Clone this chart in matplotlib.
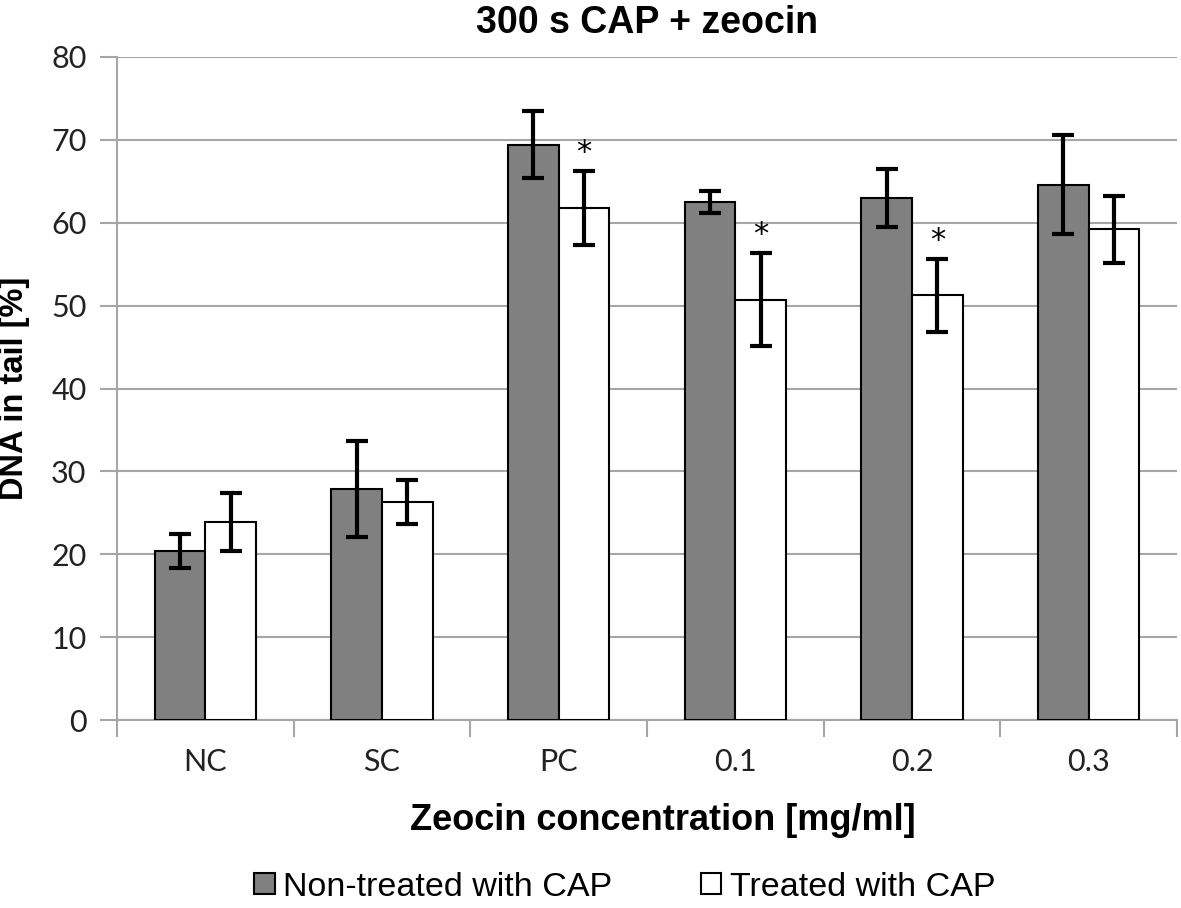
import matplotlib
matplotlib.use("Agg")
import matplotlib.pyplot as plt
import numpy as np
from matplotlib.patches import Patch

categories = ["NC", "SC", "PC", "0.1", "0.2", "0.3"]
non_treated = [20.4, 27.9, 69.4, 62.5, 63.0, 64.6]
non_treated_err = [2.0, 5.8, 4.05, 1.3, 3.5, 5.95]
treated = [23.95, 26.3, 61.75, 50.7, 51.25, 59.2]
treated_err = [3.5, 2.7, 4.45, 5.6, 4.4, 4.05]
significant = [False, False, True, True, True, False]

series_labels = ["Non-treated with CAP", "Treated with CAP"]
title = "300 s CAP + zeocin"
xlabel = "Zeocin concentration [mg/ml]"
ylabel = "DNA in tail [%]"

fig = plt.figure(figsize=(11.81, 9.08), dpi=100)
ax = fig.add_axes([117/1181, 1 - 720/908, 1060/1181, 663/908])

x = np.arange(len(categories))
w = 0.286
grid_c = "#a6a6a6"
ekw = dict(ecolor="black", elinewidth=3, capsize=8, capthick=3)

ax.bar(x - w/2, non_treated, w, color="#808080", edgecolor="black", linewidth=1.5,
       yerr=non_treated_err, error_kw=ekw, zorder=3)
ax.bar(x + w/2, treated, w, color="white", edgecolor="black", linewidth=1.5,
       yerr=treated_err, error_kw=ekw, zorder=3)

for xi, t, e, s in zip(x, treated, treated_err, significant):
    if s:
        ax.annotate("*", (xi + w/2, t + e), xytext=(0, 3), textcoords="offset points",
                    ha="center", va="bottom", fontsize=22, family="DejaVu Sans")

ax.set_xlim(-0.5, len(categories) - 0.5)
ax.set_ylim(0, 80)
ax.set_yticks(np.arange(0, 81, 10))
ax.yaxis.grid(True, color=grid_c, linewidth=1.5, zorder=0)
ax.set_axisbelow(True)

ax.set_xticks(np.arange(-0.5, len(categories), 1.0))
ax.set_xticklabels([])
ax.set_xticks(x, minor=True)
ax.set_xticklabels(categories, minor=True)
ax.tick_params(axis="x", which="major", length=12, width=1.5, color=grid_c, direction="out")
ax.tick_params(axis="x", which="minor", length=0, pad=20, labelsize=22)
ax.tick_params(axis="y", length=12, width=1.5, color=grid_c, labelsize=22, pad=10)
for lab in ax.get_xticklabels(minor=True) + ax.get_yticklabels():
    lab.set_family("Lato")
    lab.set_color("#222222")

for side in ["top", "right"]:
    ax.spines[side].set_visible(False)
for side in ["left", "bottom"]:
    ax.spines[side].set_color(grid_c)
    ax.spines[side].set_linewidth(1.5)

ax.set_title(title, fontsize=27, fontweight="bold", family="Liberation Sans", pad=17)
ax.set_xlabel(xlabel, fontsize=26, fontweight="bold", family="Liberation Sans", labelpad=12)
ax.xaxis.set_label_coords(0.515, -0.125)
ax.set_ylabel(ylabel, fontsize=23.5, fontweight="bold", family="Liberation Sans")
ax.yaxis.set_label_coords(-0.082, 0.5)

handles = [Patch(facecolor="#808080", edgecolor="black", linewidth=1.5),
           Patch(facecolor="white", edgecolor="black", linewidth=1.5)]
fig.legend(handles, series_labels, loc="center", bbox_to_anchor=(0.529, 1 - 887/908), ncol=2,
           frameon=False, prop={"family": "Liberation Sans", "size": 24.5},
           handlelength=0.6, handleheight=0.6, handletextpad=0.25, columnspacing=2.6)

fig.savefig("out.png", dpi=100)
